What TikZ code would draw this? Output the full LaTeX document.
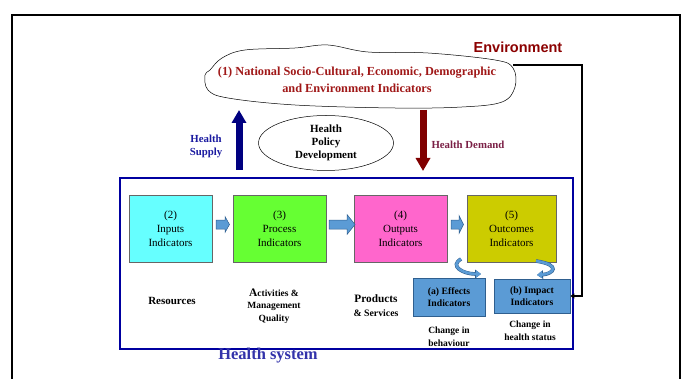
\documentclass[tikz,border=0pt]{standalone}
\usepackage{fontspec}
\setmainfont{Liberation Serif}
\newfontfamily\envfont{Liberation Sans}
\usetikzlibrary{arrows.meta,shapes.geometric}
\definecolor{cloudred}{HTML}{A01818}
\definecolor{envred}{HTML}{8B0000}
\definecolor{supblue}{HTML}{1A1AA0}
\definecolor{navy}{HTML}{000080}
\definecolor{maroon}{HTML}{800000}
\definecolor{demtext}{HTML}{7A1F45}
\definecolor{hsframe}{HTML}{0000A0}
\definecolor{hstext}{HTML}{3333AA}
\definecolor{cyanb}{HTML}{66FFFF}
\definecolor{greenb}{HTML}{66FF33}
\definecolor{pinkb}{HTML}{FF66CC}
\definecolor{oliveb}{HTML}{CCCC00}
\definecolor{lblue}{HTML}{5B9BD5}
\definecolor{dblue}{HTML}{2F5F8F}
\tikzset{
  indbox/.style={draw=gray!80!black, line width=0.6pt, minimum height=67pt, align=center,
    font=\fontsize{11}{14}\selectfont, inner sep=0pt},
  subbox/.style={draw=dblue, fill=lblue, line width=0.8pt, align=center,
    font=\bfseries\fontsize{9.7}{12}\selectfont, inner sep=0pt},
  blockarr/.style={draw=dblue, fill=lblue, line width=0.5pt, line join=miter},
  lbl/.style={align=center, font=\bfseries\fontsize{11}{13}\selectfont},
  curv/.style={lblue, line width=2.6pt, -{Triangle[width=7pt,length=5pt]},
    preaction={draw=dblue, line width=3.6pt, -{Triangle[width=8.5pt,length=6pt]}}},
}
% block arrow: x0 (tail), xh (head base), x1 (tip), yc, half shaft, half head
\newcommand{\mkblockarrow}[6]{%
  \filldraw[blockarr] (#1,#4-#5) -- (#2,#4-#5) -- (#2,#4-#6) -- (#3,#4) -- (#2,#4+#6)
    -- (#2,#4+#5) -- (#1,#4+#5) -- cycle;}
\begin{document}
\begin{tikzpicture}[x=1pt,y=-1pt]
\useasboundingbox (0,0) rectangle (684,379);
% outer frame
\draw[line width=1.5pt] (12,385) -- (12,15) -- (680,15) -- (680,385);
% cloud
\draw[line width=0.5pt] plot[smooth cycle, tension=0.6] coordinates {
  (205,75) (208,90) (228,98) (295,105) (395,108) (462,107) (502,102) (515,87)
  (513,68) (495,60) (428,53) (368,52) (328,45) (295,48) (245,50) (222,58) (210,70)};
\node[cloudred, font=\bfseries\fontsize{12.3}{16.5}\selectfont, align=center] (nat) at (357,80)
  {(1) National Socio-Cultural, Economic, Demographic\\and Environment Indicators};
\node[envred, font=\envfont\bfseries\fontsize{14.5}{16}\selectfont] (env) at (518,47) {Environment};
\coordinate (cloudR) at (513,65);
% health system frame
\draw[hsframe, line width=1.6pt] (120,178) rectangle (573,349);
\node[hstext, font=\bfseries\fontsize{16.5}{18}\selectfont] (hs) at (268,356) {Health system};
% ellipse
\node[draw, ellipse, line width=0.5pt, minimum width=135pt, minimum height=55pt, align=center,
  font=\bfseries\fontsize{11}{13}\selectfont, inner sep=0pt] (hpd) at (326,143)
  {Health\\Policy\\Development};
% supply / demand arrows
\coordinate (supS) at (239,170);
\coordinate (supE) at (239,110);
\draw[navy, line width=7pt, -{Triangle[width=14pt,length=13pt]}] (supS) -- (supE);
\node[supblue, lbl, font=\bfseries\fontsize{10.8}{13}\selectfont] (sup) at (206,146) {Health\\Supply};
\coordinate (demS) at (423,110);
\coordinate (demE) at (423,171);
\draw[maroon, line width=7pt, -{Triangle[width=14pt,length=13pt]}] (demS) -- (demE);
\node[demtext, font=\bfseries\fontsize{10.8}{12}\selectfont, anchor=west] (dem) at (428,145) {Health Demand};
% indicator boxes
\node[indbox, fill=cyanb, minimum width=83pt] (b2) at (170.5,228.5) {(2)\\Inputs\\Indicators};
\node[indbox, fill=greenb, minimum width=93pt] (b3) at (279.5,228.5) {(3)\\Process\\Indicators};
\node[indbox, fill=pinkb, minimum width=93pt] (b4) at (400.5,228.5) {(4)\\Outputs\\Indicators};
\node[indbox, fill=oliveb, minimum width=89pt] (b5) at (511.5,228.5) {(5)\\Outcomes\\Indicators};
% block arrows
\mkblockarrow{216}{225}{229.5}{224.5}{4.5}{8}
\mkblockarrow{329}{347}{355}{224.5}{4.5}{10}
\mkblockarrow{451}{459}{463.5}{224.5}{4.5}{9}
% sub boxes
\node[subbox, minimum width=72pt, minimum height=38pt] (eff) at (449,297) {(a) Effects\\Indicators};
\node[subbox, minimum width=76pt, minimum height=34pt] (imp) at (532,296) {(b) Impact\\Indicators};
% curved arrows
\draw[curv] (461,259) .. controls (449,266) and (463,274) .. (481,274);
\draw[curv] (536,261) .. controls (562,265) and (553,274) .. (537,275);
% environment connector
\draw[line width=1.4pt, -{Triangle[width=5pt,length=4pt]}] (cloudR) -- (582,65) -- (582,296) -- (imp.east);
% labels
\node[lbl] (res) at (172,301) {Resources};
\node[lbl, font=\bfseries\fontsize{9.5}{12.5}\selectfont] (act) at (274,306)
  {{\fontsize{11.5}{12}\selectfont A}ctivities \&\\Management\\Quality};
\node[lbl, font=\bfseries\fontsize{9.8}{14}\selectfont] (prod) at (376,306) {{\fontsize{11.3}{12}\selectfont Products}\\\& Services};
\node[lbl, font=\bfseries\fontsize{9.5}{12.5}\selectfont] (chb) at (449,337) {Change in\\behaviour};
\node[lbl, font=\bfseries\fontsize{9.5}{12.5}\selectfont] (chh) at (530,331) {Change in\\health status};
\end{tikzpicture}
\end{document}
